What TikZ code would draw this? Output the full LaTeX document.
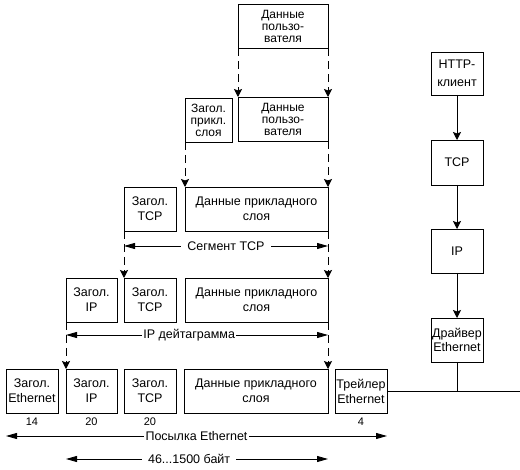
\documentclass[tikz,border=0pt]{standalone}
\usepackage{fontspec}
\setmainfont{Liberation Sans}
\usetikzlibrary{arrows.meta, positioning}
\tikzset{
  n/.style={draw, line width=0.8pt, inner sep=0pt, outer sep=0pt, align=center, minimum height=44pt, font=\fontsize{12.5}{15}\selectfont},
  nt/.style={n, font=\fontsize{12}{12}\selectfont},
  a/.style={-{Stealth[length=8pt, width=8pt, inset=1.5pt]}, line width=0.8pt},
  ad/.style={a, dash pattern=on 8pt off 5pt},
  meas/.style={{Triangle[length=11pt, width=6pt]}-{Triangle[length=11pt, width=6pt]}, line width=0.8pt},
  lbl/.style={font=\fontsize{12.5}{15}\selectfont, fill=white, inner ysep=2pt, midway},
  num/.style={font=\fontsize{11}{13}\selectfont, inner sep=0pt},
}

\begin{document}
\begin{tikzpicture}[x=1pt, y=-1pt]
\useasboundingbox (0,0) rectangle (520,470);

% ---- application data ----
\node[nt, minimum width=90pt]  (ud1) at (283,26.5) {Данные\\пользо-\\вателя};
\node[nt, minimum width=47pt]  (ah)  at (208.5,120) {Загол.\\прикл.\\слоя};
\node[nt, minimum width=90pt]  (ud2) at (283,119)   {Данные\\пользо-\\вателя};

% ---- TCP segment ----
\node[n, minimum width=52pt]  (th3) at (150,209)   {Загол.\\TCP};
\node[n, minimum width=143pt] (ad3) at (256.5,209) {Данные прикладного\\слоя};

% ---- IP datagram ----
\node[n, minimum width=51pt]  (ih4) at (91.5,300)  {Загол.\\IP};
\node[n, minimum width=52pt]  (th4) at (150,300)   {Загол.\\TCP};
\node[n, minimum width=143pt] (ad4) at (256.5,300) {Данные прикладного\\слоя};

% ---- Ethernet frame ----
\node[n, minimum width=52pt]  (eh5) at (32,391)    {Загол.\\Ethernet};
\node[n, minimum width=51pt]  (ih5) at (91.5,391)  {Загол.\\IP};
\node[n, minimum width=52pt]  (th5) at (150,391)   {Загол.\\TCP};
\node[n, minimum width=144pt] (ad5) at (256,391)   {Данные прикладного\\слоя};
\node[n, minimum width=52pt]  (et5) at (361,391)   {Трейлер\\Ethernet};

\node[num, below=5pt of eh5] (b14) {14};
\node[num, below=5pt of ih5] (b20a) {20};
\node[num, below=5pt of th5] (b20b) {20};
\node[num, below=5pt of et5] (b4) {4};

% ---- stack (right) ----
\node[n, minimum width=52pt, minimum height=43pt, font=\fontsize{12.5}{18}\selectfont] (http) at (457,73.5) {HTTP-\\клиент};
\node[n, minimum width=52pt, minimum height=45pt] (tcp) at (457,162.5) {TCP};
\node[n, minimum width=52pt] (ip)  at (457,251) {IP};
\node[n, minimum width=52pt, font=\fontsize{12.5}{13.5}\selectfont] (drv) at (457,340) {Драйвер\\Ethernet};
\coordinate (wire) at (520,391);

% ---- edges ----
\draw[ad] (ud1.south west) -- (ud2.north west);
\draw[ad] (ud1.south east) -- (ud2.north east);
\draw[ad] (ah.south west)  -- (ad3.north west);
\draw[ad] (ud2.south east) -- (ad3.north east);
\draw[ad] (th3.south west) -- (th4.north west);
\draw[ad] (ad3.south east) -- (ad4.north east);
\draw[ad] (ih4.south west) -- (ih5.north west);
\draw[ad] (ad4.south east) -- (ad5.north east);

\draw[meas] ([yshift=-15pt]th3.south west) -- node[lbl, inner xsep=6pt] {Сегмент TCP} ([yshift=-15pt]ad3.south east);
\draw[meas] ([yshift=-13pt]ih4.south west) -- node[lbl, inner xsep=1pt, pos=0.47] {IP дейтаграмма} ([yshift=-13pt]ad4.south east);
\draw[meas] ([yshift=-23pt]eh5.south west) -- node[lbl, inner xsep=2pt] {Посылка Ethernet} ([yshift=-23pt]et5.south east);
\draw[meas] ([yshift=-46pt]ih5.south west) -- node[lbl, inner xsep=6pt, pos=0.47] {46...1500 байт} ([yshift=-46pt]ad5.south east);

\draw[a] (http) -- (tcp);
\draw[a] (tcp)  -- (ip);
\draw[a] (ip)   -- (drv);
\draw[line width=0.8pt] (et5.east) -- (wire);
\draw[line width=0.8pt] (drv.south) -- (drv.south |- wire);
\end{tikzpicture}
\end{document}
